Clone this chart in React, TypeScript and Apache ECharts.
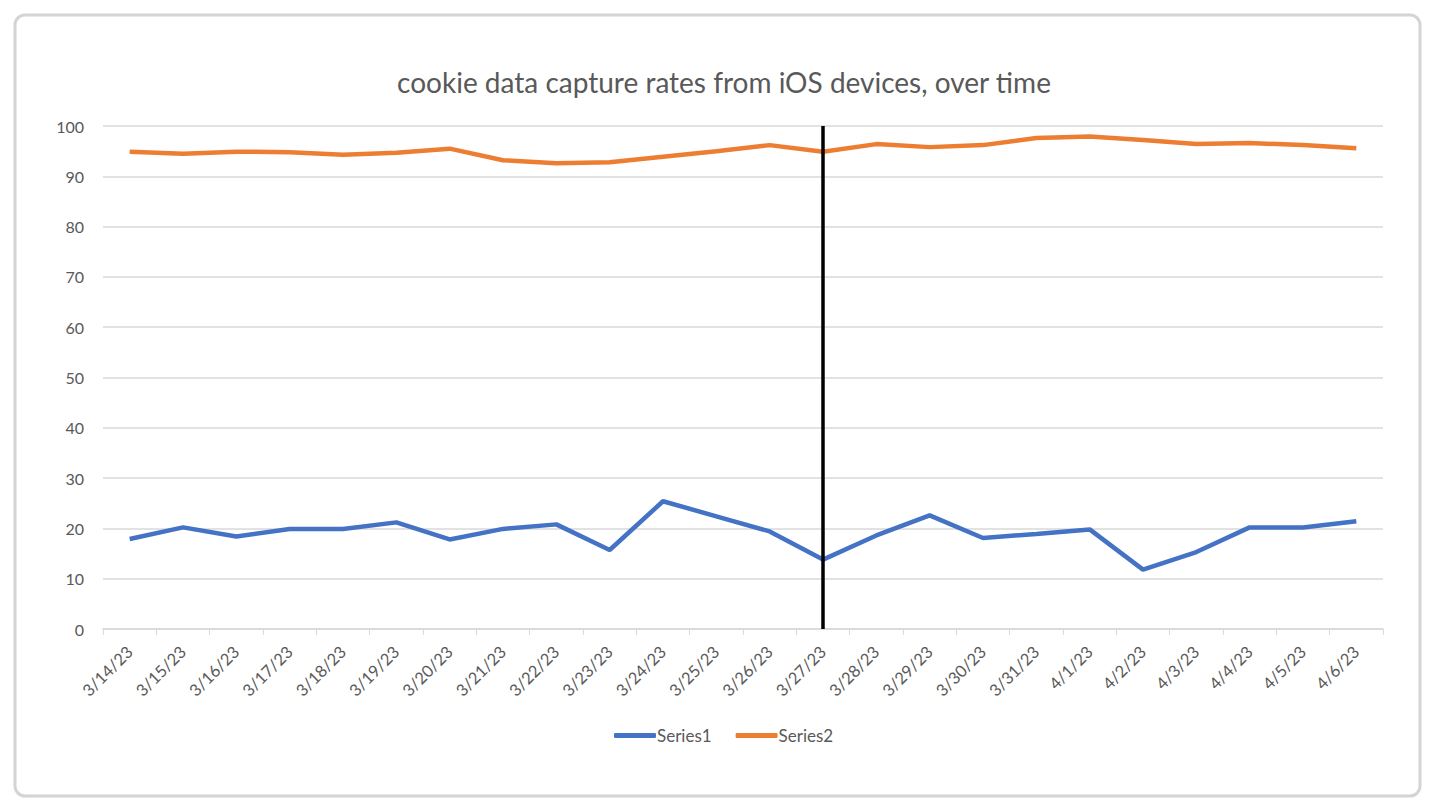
import React, { useEffect, useRef } from "react";
import * as echarts from "echarts";

const categories = [
  "3/14/23", "3/15/23", "3/16/23", "3/17/23", "3/18/23", "3/19/23", "3/20/23", "3/21/23",
  "3/22/23", "3/23/23", "3/24/23", "3/25/23", "3/26/23", "3/27/23", "3/28/23", "3/29/23",
  "3/30/23", "3/31/23", "4/1/23", "4/2/23", "4/3/23", "4/4/23", "4/5/23", "4/6/23",
];
const series1 = [
  17.9, 20.2, 18.4, 19.9, 19.9, 21.2, 17.8, 19.9, 20.8, 15.7, 25.4, 22.4,
  19.4, 13.8, 18.6, 22.6, 18.1, 18.9, 19.8, 11.8, 15.3, 20.2, 20.2, 21.4,
];
const series2 = [
  94.9, 94.5, 94.9, 94.8, 94.3, 94.7, 95.5, 93.2, 92.6, 92.8, 93.9, 95.0,
  96.2, 94.9, 96.4, 95.8, 96.2, 97.6, 97.9, 97.2, 96.4, 96.6, 96.2, 95.6,
];
const markerCategory = "3/27/23";
const yTicks = { min: 0, max: 100, interval: 10 };
const titleText = "cookie data capture rates from iOS devices, over time";
const seriesNames = ["Series1", "Series2"];

export default function App() {
  const ref = useRef<HTMLDivElement>(null);
  useEffect(() => {
    if (!ref.current) return;
    const chart = echarts.init(ref.current, null, { renderer: "svg" });
    const font = "Lato, 'Open Sans', sans-serif";
    chart.setOption({
      animation: false,
      backgroundColor: "#ffffff",
      textStyle: { fontFamily: font },
      graphic: [
        {
          type: "rect",
          shape: { x: 15, y: 15, width: 1405, height: 781, r: 10 },
          style: { fill: "#ffffff", stroke: "#d4d4d4", lineWidth: 3 },
          z: -10,
        },
      ],
      title: {
        text: titleText,
        left: 719,
        textAlign: "center",
        top: 63,
        textStyle: { fontFamily: font, fontSize: 28, fontWeight: "normal", color: "#595959" },
      },
      legend: {
        data: seriesNames,
        top: 722,
        left: 609,
        itemWidth: 42,
        itemHeight: 5,
        itemGap: 24,
        icon: "roundRect",
        textStyle: { fontFamily: font, fontSize: 17, color: "#595959", padding: [0, 0, 0, -4] },
      },
      grid: { left: 103, right: 51, top: 126, bottom: 181, containLabel: false },
      xAxis: {
        type: "category",
        data: categories,
        boundaryGap: true,
        axisLine: { lineStyle: { color: "#d9d9d9", width: 1.5 } },
        axisTick: { show: true, length: 6, lineStyle: { color: "#d9d9d9" } },
        axisLabel: { rotate: 45, fontSize: 16.5, color: "#595959", margin: 20, interval: 0, fontFamily: font },
      },
      yAxis: {
        type: "value",
        min: yTicks.min,
        max: yTicks.max,
        interval: yTicks.interval,
        axisLine: { show: false },
        axisTick: { show: false },
        axisLabel: { fontSize: 16, color: "#595959", margin: 19, fontFamily: font },
        splitLine: { lineStyle: { color: "#d9d9d9", width: 1.5 } },
      },
      series: [
        {
          name: seriesNames[0],
          type: "line",
          data: series1,
          symbol: "none",
          lineStyle: { color: "#4472C4", width: 4.5 },
          itemStyle: { color: "#4472C4" },
          markLine: {
            silent: true,
            symbol: "none",
            label: { show: false },
            lineStyle: { color: "#000000", width: 3.5, type: "solid" },
            data: [{ xAxis: markerCategory }],
          },
        },
        {
          name: seriesNames[1],
          type: "line",
          data: series2,
          symbol: "none",
          lineStyle: { color: "#ED7D31", width: 4.5 },
          itemStyle: { color: "#ED7D31" },
        },
      ],
    });
    return () => chart.dispose();
  }, []);
  return (
    <div
      ref={ref}
      style={{ position: "fixed", left: 0, top: 0, width: 1434, height: 810 }}
    />
  );
}
